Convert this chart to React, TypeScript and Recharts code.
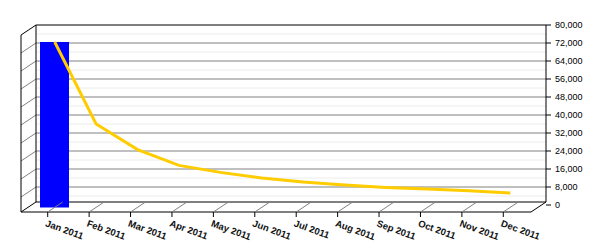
import React from 'react';
import { ComposedChart, Bar, Line, XAxis, YAxis, CartesianGrid, Customized } from 'recharts';

const months = ['Jan 2011', 'Feb 2011', 'Mar 2011', 'Apr 2011', 'May 2011', 'Jun 2011', 'Jul 2011', 'Aug 2011', 'Sep 2011', 'Oct 2011', 'Nov 2011', 'Dec 2011'];
const barValues = [72450, null, null, null, null, null, null, null, null, null, null, null];
const lineValues = [72450, 36000, 24600, 17600, 14500, 12000, 10200, 8900, 7800, 7100, 6350, 5330];
const yTicks = [0, 8000, 16000, 24000, 32000, 40000, 48000, 56000, 64000, 72000, 80000];
const minorTicks = [4000, 12000, 20000, 28000, 36000, 44000, 52000, 60000, 68000, 76000];

const data = months.map((m, i) => ({ month: m, total: barValues[i], trend: lineValues[i] }));

// frame geometry (back plane + depth offset)
const LEFT = 36;
const TOP = 25;
const RIGHT = 546;
const FLOOR = 202;
const DX = 15;
const DY = 10;
const FONT = '"Liberation Sans", Arial, sans-serif';

const Frame = () => (
    <g stroke="#000" strokeWidth={1} fill="none">
        <line x1={LEFT} y1={TOP} x2={RIGHT} y2={TOP} />
        <line x1={RIGHT} y1={TOP} x2={RIGHT} y2={FLOOR} />
        <line x1={LEFT} y1={TOP} x2={LEFT} y2={FLOOR} />
        <line x1={LEFT} y1={FLOOR} x2={RIGHT} y2={FLOOR} />
        <line x1={LEFT - DX} y1={TOP + DY} x2={LEFT - DX} y2={FLOOR + DY} />
        <line x1={LEFT - DX} y1={TOP + DY} x2={LEFT} y2={TOP} />
        <line x1={LEFT - DX} y1={FLOOR + DY} x2={LEFT} y2={FLOOR} />
        <line x1={LEFT - DX} y1={FLOOR + DY} x2={RIGHT - DX} y2={FLOOR + DY} />
        <line x1={RIGHT - DX} y1={FLOOR + DY} x2={RIGHT} y2={FLOOR} />
    </g>
);

const gridLine = (props: any) => (
    <g key={props.key} stroke="#808080" strokeWidth={1}>
        <line x1={props.x1} y1={props.y1} x2={props.x2} y2={props.y2} />
        <line x1={props.x1} y1={props.y1} x2={props.x1 - DX} y2={props.y1 + DY} />
    </g>
);

const MonthTick = (props: any) => {
    const { x, payload } = props;
    const fx = x - 7;
    return (
        <g>
            <line x1={fx} y1={FLOOR + DY} x2={fx + DX} y2={FLOOR} stroke="#808080" />
            <line x1={fx} y1={FLOOR + DY} x2={fx} y2={FLOOR + DY + 5} stroke="#000" />
            <text
                x={x - 10}
                y={226}
                transform={`rotate(20, ${x - 10}, 226)`}
                textAnchor="start"
                fontSize={9.5}
                fontWeight="bold"
                fontFamily={FONT}
                fill="#111"
            >
                {payload.value}
            </text>
        </g>
    );
};

const TallBar = (props: any) => {
    const { x, y, width, height, fill } = props;
    if (!height) return null;
    return <rect x={x} y={y} width={width} height={height + 2.5} fill={fill} />;
};

const App = () => {
    return (
        <div style={{ position: 'absolute', left: 0, top: 0, width: 600, height: 250, background: '#fff' }}>
            <ComposedChart width={600} height={250} data={data} margin={{ top: TOP, right: 0, left: LEFT, bottom: 0 }}>
                <CartesianGrid vertical={false} horizontalValues={minorTicks} stroke="#ececec" />
                <CartesianGrid vertical={false} horizontalValues={yTicks.slice(1, -1)} horizontal={gridLine} />
                <Customized component={Frame} />
                <XAxis
                    dataKey="month"
                    height={45}
                    padding={{ left: -2, right: 15 }}
                    axisLine={false}
                    tickLine={false}
                    interval={0}
                    tick={<MonthTick />}
                />
                <YAxis
                    orientation="right"
                    width={54}
                    domain={[0, 80000]}
                    ticks={yTicks}
                    interval={0}
                    axisLine={false}
                    tickSize={5}
                    tickMargin={4}
                    tickLine={{ stroke: '#000' }}
                    tickFormatter={(v: number) => v.toLocaleString('en-US')}
                    tick={{ fontSize: 9, fill: '#000', fontFamily: FONT }}
                />
                <Bar dataKey="total" fill="#0000FF" barSize={29} shape={<TallBar />} isAnimationActive={false} />
                <Line type="linear" dataKey="trend" stroke="#FFCC00" strokeWidth={3} dot={false} isAnimationActive={false} />
            </ComposedChart>
        </div>
    );
};

export default App;
